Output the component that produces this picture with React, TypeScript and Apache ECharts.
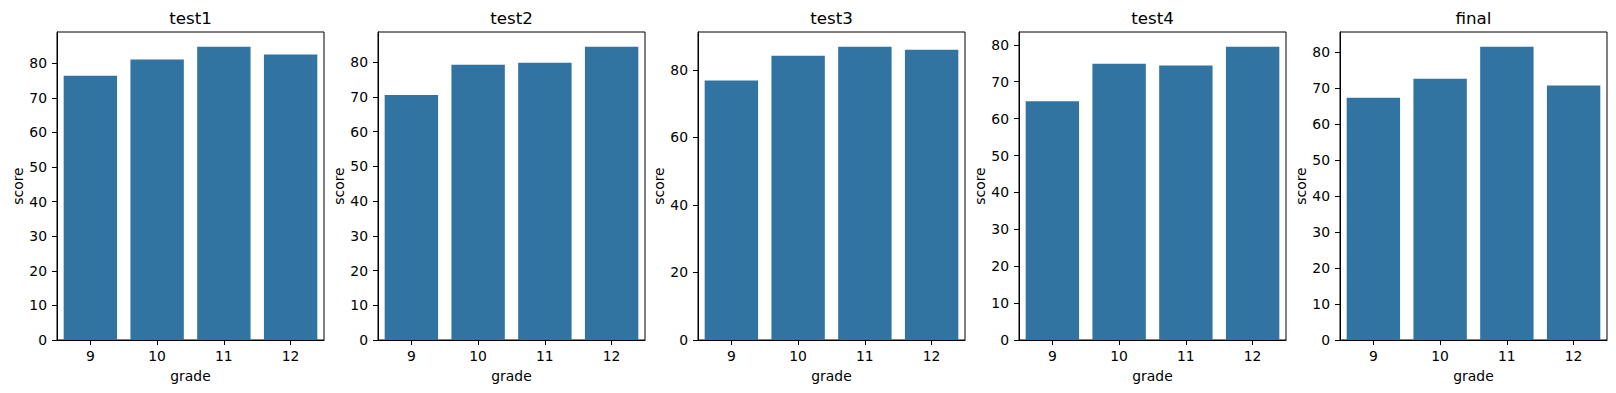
import React, { useEffect, useRef } from 'react';
import * as echarts from 'echarts';

const categories = ['9', '10', '11', '12'];
const panelTitles = ['test1', 'test2', 'test3', 'test4', 'final'];

const test1Scores = [76.4, 81.1, 84.8, 82.5];
const test2Scores = [70.6, 79.3, 79.9, 84.5];
const test3Scores = [76.9, 84.2, 86.9, 86.0];
const test4Scores = [64.7, 74.9, 74.4, 79.5];
const finalScores = [67.4, 72.7, 81.6, 70.8];

const yTicksBy10 = [0, 10, 20, 30, 40, 50, 60, 70, 80];
const yTicksBy20 = [0, 20, 40, 60, 80];

const panelScores = [test1Scores, test2Scores, test3Scores, test4Scores, finalScores];
const panelTicks = [yTicksBy10, yTicksBy10, yTicksBy20, yTicksBy10, yTicksBy10];
const panelIntervals = [10, 10, 20, 10, 10];

const FONT = 'DejaVu Sans';
const BAR_COLOR = '#3274a1';
const gridLefts = [57, 378, 698, 1019, 1340];
const GRID_W = 267;
const GRID_TOP = 32;
const GRID_H = 308;

export default function App() {
  const ref = useRef<HTMLDivElement>(null);

  useEffect(() => {
    document.body.style.margin = '0';
    const chart = echarts.init(ref.current!, undefined, { renderer: 'svg' });

    const grids = gridLefts.map((left) => ({
      left,
      top: GRID_TOP,
      width: GRID_W,
      height: GRID_H,
      show: true,
      borderColor: '#000',
      borderWidth: 1,
      backgroundColor: 'transparent',
      containLabel: false,
    }));

    const titles = panelTitles.map((t, i) => ({
      text: t,
      left: gridLefts[i] + GRID_W / 2,
      top: 9,
      textAlign: 'center',
      padding: 0,
      textStyle: { fontFamily: FONT, fontSize: 16.7, fontWeight: 'normal', color: '#000' },
    }));

    const xAxes = panelTitles.map((_, i) => ({
      type: 'category',
      gridIndex: i,
      data: categories,
      boundaryGap: true,
      axisLine: { show: true, lineStyle: { color: '#000', width: 1 } },
      axisTick: { show: true, alignWithLabel: true, length: 5, lineStyle: { color: '#000', width: 1 } },
      axisLabel: { margin: 9, fontFamily: FONT, fontSize: 13.9, color: '#000' },
      splitLine: { show: false },
      name: 'grade',
      nameLocation: 'middle',
      nameGap: 29,
      nameTextStyle: { fontFamily: FONT, fontSize: 13.9, color: '#000' },
    }));

    const yAxes = panelTitles.map((_, i) => ({
      type: 'value',
      gridIndex: i,
      min: 0,
      max: Math.max(...panelScores[i]) * 1.05,
      interval: panelIntervals[i],
      axisLine: { show: true, lineStyle: { color: '#000', width: 1 } },
      axisTick: { show: true, length: 5, customValues: panelTicks[i], lineStyle: { color: '#000', width: 1 } },
      axisLabel: { margin: 10, customValues: panelTicks[i], fontFamily: FONT, fontSize: 13.9, color: '#000' },
      splitLine: { show: false },
      name: 'score',
      nameLocation: 'middle',
      nameGap: 31,
      nameTextStyle: { fontFamily: FONT, fontSize: 13.9, color: '#000' },
    }));

    const series = panelScores.map((scores, i) => ({
      type: 'bar',
      xAxisIndex: i,
      yAxisIndex: i,
      data: scores,
      barWidth: '80%',
      itemStyle: { color: BAR_COLOR },
    }));

    chart.setOption({
      animation: false,
      backgroundColor: '#fff',
      title: titles,
      grid: grids,
      xAxis: xAxes,
      yAxis: yAxes,
      series,
    });

    return () => chart.dispose();
  }, []);

  return <div ref={ref} style={{ width: 1616, height: 393 }} />;
}
